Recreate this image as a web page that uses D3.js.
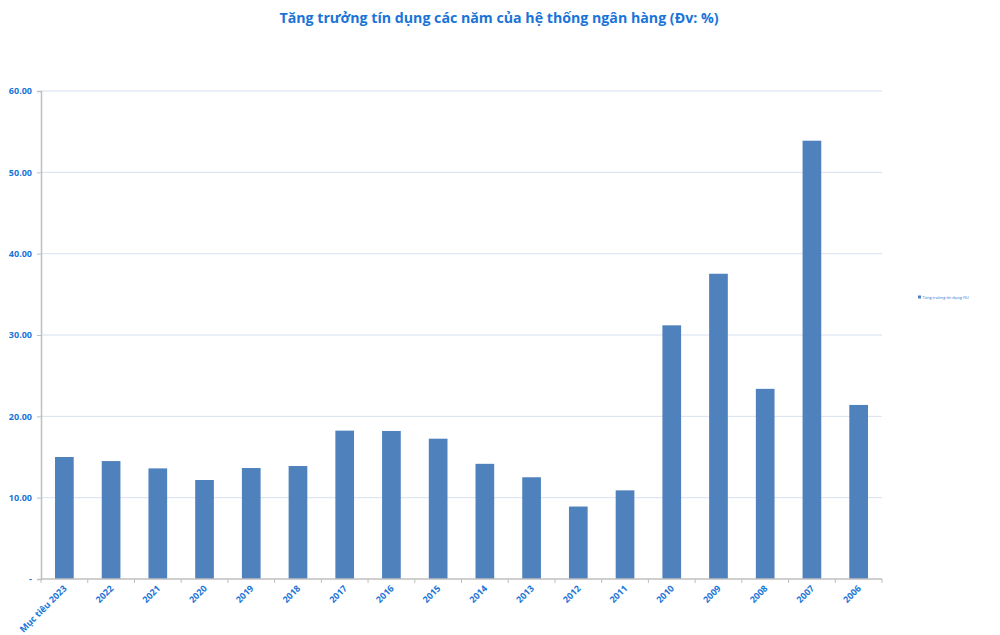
<!DOCTYPE html>
<html>
<head>
<meta charset="utf-8">
<script src="https://cdn.jsdelivr.net/npm/d3@7"></script>
<style>
  html, body { margin: 0; padding: 0; background: #fff; }
  svg { display: block; }
</style>
</head>
<body>
<svg id="chart" width="1000" height="635"></svg>
<script>
const categories = ["Mục tiêu 2023", "2022", "2021", "2020", "2019", "2018", "2017", "2016", "2015", "2014", "2013", "2012", "2011", "2010", "2009", "2008", "2007", "2006"];
const values = [15.0, 14.5, 13.6, 12.17, 13.65, 13.89, 18.24, 18.2, 17.25, 14.16, 12.51, 8.91, 10.9, 31.19, 37.53, 23.38, 53.89, 21.4];
const yTicks = [0, 10, 20, 30, 40, 50, 60];
const seriesName = "Tăng trưởng tín dụng (%)";
const title = "Tăng trưởng tín dụng các năm của hệ thống ngân hàng (Đv: %)";

const svg = d3.select("#chart");
const mLeft = 41, mRight = 882, mTop = 91, mBottom = 579;
const blue = "#1a74d8";
const font = "'Open Sans', 'Liberation Sans', sans-serif";

const x = d3.scaleBand().domain(categories).range([mLeft, mRight]).paddingInner(0.6).paddingOuter(0.3);
const y = d3.scaleLinear().domain([0, 60]).range([mBottom, mTop]);

// gridlines
svg.append("g").selectAll("line").data(yTicks.filter(d => d > 0)).join("line")
  .attr("x1", mLeft).attr("x2", mRight)
  .attr("y1", d => y(d)).attr("y2", d => y(d))
  .attr("stroke", "#d6e0ef").attr("stroke-width", 1);

// bars
svg.append("g").selectAll("rect").data(values).join("rect")
  .attr("x", (d, i) => x(categories[i]))
  .attr("width", x.bandwidth())
  .attr("y", d => y(d))
  .attr("height", d => y(0) - y(d))
  .attr("fill", "#4f81bd");

// y axis
const yAxis = d3.axisLeft(y).tickValues(yTicks).tickSize(4).tickPadding(5)
  .tickFormat(d => d === 0 ? "-" : d3.format(".2f")(d));
const gy = svg.append("g").attr("transform", `translate(${mLeft},0)`).call(yAxis);
gy.select(".domain").attr("stroke", "#bfbfbf").attr("stroke-width", 1.5);
gy.selectAll(".tick line").attr("stroke", "#bfbfbf");
gy.selectAll(".tick text").attr("fill", blue).attr("font-family", font)
  .attr("font-size", 9).attr("font-weight", "bold");

// x axis
const xb = d3.scaleLinear().domain([0, categories.length]).range([mLeft, mRight]);
const gx = svg.append("g");
gx.append("line").attr("x1", mLeft).attr("x2", mRight).attr("y1", mBottom).attr("y2", mBottom)
  .attr("stroke", "#bfbfbf").attr("stroke-width", 1.5);
gx.selectAll("line.t").data(d3.range(categories.length + 1)).join("line").attr("class", "t")
  .attr("x1", d => xb(d)).attr("x2", d => xb(d))
  .attr("y1", mBottom).attr("y2", mBottom + 4).attr("stroke", "#bfbfbf");
gx.selectAll("text").data(categories).join("text")
  .attr("transform", d => `translate(${x(d) + x.bandwidth() / 2 + 3},${mBottom + 10}) rotate(-45)`)
  .attr("text-anchor", "end")
  .attr("fill", blue).attr("font-family", font).attr("font-size", 9).attr("font-weight", "bold")
  .text(d => d);

// title
svg.append("text").attr("x", 499).attr("y", 23).attr("text-anchor", "middle")
  .attr("fill", blue).attr("font-family", font).attr("font-size", 14.2).attr("font-weight", "bold")
  .text(title);

// legend
const lg = svg.append("g").attr("transform", "translate(918,298)");
lg.append("rect").attr("x", 0).attr("y", -2.5).attr("width", 3).attr("height", 3).attr("fill", "#4f81bd");
lg.append("text").attr("x", 4.5).attr("y", 1).attr("fill", blue).attr("font-family", font)
  .attr("font-size", 4).text(seriesName);
</script>
</body>
</html>
